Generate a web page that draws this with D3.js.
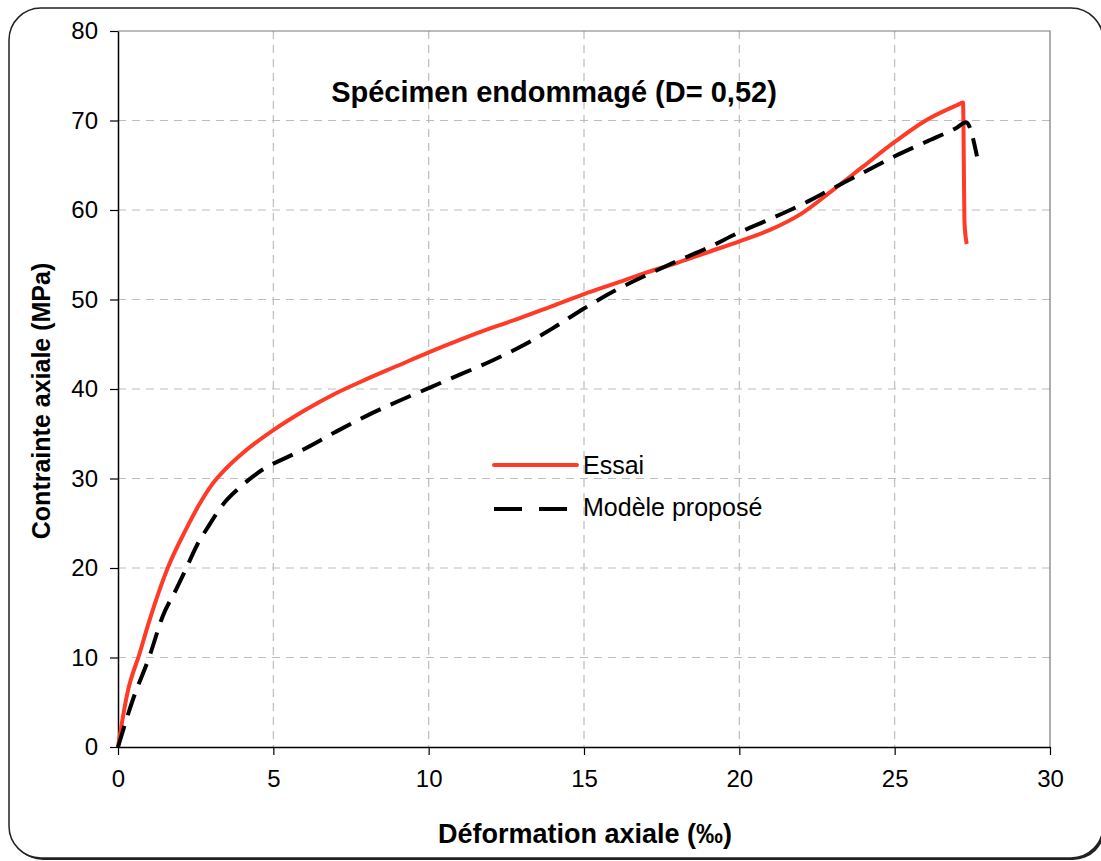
<!DOCTYPE html>
<html>
<head>
<meta charset="utf-8">
<script src="https://cdn.jsdelivr.net/npm/d3@7"></script>
<style type="text/css">
    body{ margin: 0; background: white; }
    text{ font-family: Arial, "Liberation Sans", sans-serif; }
    .grid line{ stroke: #bdbdbd; stroke-dasharray: 8,6; stroke-width: 1.2; }
</style>
</head>
<body>
<script type="text/javascript">
var width = 1101,
    height = 861;

// essai (red curve)
var essaiX = [0, 0.3, 0.7, 1.0, 1.6, 2.2, 2.6, 3.0, 3.5, 4.0, 5.0, 6.0, 7.0, 8.0, 9.0, 10.0, 11.0, 12.0, 13.0, 14.0, 15.0, 16.0, 17.0, 18.0, 19.0, 20.0, 21.0, 22.0, 23.0, 24.0, 25.0, 26.0, 27.0, 27.2, 27.25, 27.32];
var essaiY = [0, 6, 10.5, 14, 20, 24.4, 27.0, 29.2, 31.2, 32.8, 35.4, 37.6, 39.5, 41.1, 42.6, 44.1, 45.5, 46.8, 48.0, 49.3, 50.6, 51.8, 53.0, 54.1, 55.3, 56.5, 57.8, 59.6, 62.2, 64.9, 67.6, 70.0, 71.7, 72.0, 58.5, 56.2];

// modele propose (black dashed)
var modeleX = [0, 0.5, 1.0, 1.45, 1.9, 2.2, 2.55, 2.9, 3.45, 3.95, 4.75, 5.4, 6.0, 7.0, 8.0, 9.0, 10.0, 11.0, 12.0, 13.0, 14.0, 15.0, 16.0, 17.0, 18.0, 19.0, 20.0, 21.0, 22.0, 23.0, 24.0, 25.0, 26.0, 27.0, 27.3, 27.65];
var modeleY = [0, 5.5, 10, 14.7, 17.8, 20, 22.6, 24.6, 27.4, 29.1, 31.2, 32.3, 33.3, 35.2, 37.0, 38.6, 40.1, 41.6, 43.1, 44.8, 46.8, 49.0, 51.0, 52.7, 54.3, 55.8, 57.5, 59.0, 60.6, 62.4, 64.2, 66.0, 67.6, 69.2, 69.8, 66.0];

var xTicks = [0, 5, 10, 15, 20, 25, 30];
var yTicks = [0, 10, 20, 30, 40, 50, 60, 70, 80];

var pLeft = 118, pRight = 1050, pTop = 31, pBottom = 747;

var x = d3.scaleLinear().domain([0, 30]).range([pLeft, pRight]);
var y = d3.scaleLinear().domain([0, 80]).range([pBottom, pTop]);

var svg = d3.select('body')
    .append('svg')
        .attr('width', width)
        .attr('height', height);

// outer frame
svg.append('rect')
    .attr('x', 11).attr('y', 10)
    .attr('width', 1094).attr('height', 850)
    .attr('rx', 32)
    .attr('fill', '#222');
svg.append('rect')
    .attr('x', 9).attr('y', 8)
    .attr('width', 1094).attr('height', 850)
    .attr('rx', 32)
    .attr('fill', 'white')
    .attr('stroke', '#222')
    .attr('stroke-width', 1.5);

// grid
var grid = svg.append('g').attr('class', 'grid');
grid.selectAll('.h')
    .data(yTicks.slice(1, -1))
    .enter().append('line')
        .attr('x1', pLeft).attr('x2', pRight)
        .attr('y1', function(d){ return y(d); })
        .attr('y2', function(d){ return y(d); });
grid.selectAll('.v')
    .data(xTicks.slice(1, -1))
    .enter().append('line')
        .attr('y1', pTop).attr('y2', pBottom)
        .attr('x1', function(d){ return x(d); })
        .attr('x2', function(d){ return x(d); });

// plot border top/right
svg.append('path')
    .attr('d', 'M' + pLeft + ',' + pTop + 'H' + pRight + 'V' + pBottom)
    .attr('fill', 'none')
    .attr('stroke', '#7a7a7a')
    .attr('stroke-width', 1.2);

// axes
var xAxis = svg.append('g')
    .attr('transform', 'translate(0,' + pBottom + ')')
    .call(d3.axisBottom(x).tickValues(xTicks).tickSize(8).tickSizeOuter(0));
var yAxis = svg.append('g')
    .attr('transform', 'translate(' + pLeft + ',0)')
    .call(d3.axisLeft(y).tickValues(yTicks).tickSize(8).tickSizeOuter(0));

[xAxis, yAxis].forEach(function(a){
    a.select('.domain').attr('stroke', '#000').attr('stroke-width', 1.5);
    a.selectAll('.tick line').attr('stroke', '#000').attr('stroke-width', 1.2);
    a.selectAll('.tick text')
        .attr('font-family', 'Arial, "Liberation Sans", sans-serif')
        .attr('font-size', 24)
        .attr('fill', '#000');
});
xAxis.selectAll('.tick text').attr('dy', '1.2em');
yAxis.selectAll('.tick text').attr('x', -20);

// curves
var line = d3.line()
    .curve(d3.curveMonotoneX)
    .x(function(d){ return x(d[0]); })
    .y(function(d){ return y(d[1]); });

var modele = modeleX.map(function(v, i){ return [v, modeleY[i]]; });
var essai = essaiX.map(function(v, i){ return [v, essaiY[i]]; });

svg.append('path')
    .datum(essai)
    .attr('d', line)
    .attr('fill', 'none')
    .attr('stroke', '#ff3a26')
    .attr('stroke-width', 4)
    .attr('stroke-linejoin', 'round');

svg.append('path')
    .datum(modele)
    .attr('d', line)
    .attr('fill', 'none')
    .attr('stroke', '#000')
    .attr('stroke-width', 4)
    .attr('stroke-dasharray', '22,11');

// title
svg.append('text')
    .attr('x', 554).attr('y', 102)
    .attr('text-anchor', 'middle')
    .attr('font-size', 29)
    .attr('font-weight', 'bold')
    .text('Spécimen endommagé (D= 0,52)');

// axis labels
svg.append('text')
    .attr('x', 585).attr('y', 843)
    .attr('text-anchor', 'middle')
    .attr('font-size', 27)
    .attr('font-weight', 'bold')
    .text('Déformation axiale (‰)');

svg.append('text')
    .attr('transform', 'translate(50,401) rotate(-90)')
    .attr('text-anchor', 'middle')
    .attr('font-size', 25)
    .attr('font-weight', 'bold')
    .text('Contrainte axiale (MPa)');

// legend
var legend = svg.append('g');
legend.append('line')
    .attr('x1', 494).attr('x2', 577)
    .attr('y1', 465).attr('y2', 465)
    .attr('stroke', '#ff3a26').attr('stroke-width', 4)
    .attr('stroke-linecap', 'round');
legend.append('text')
    .attr('x', 583).attr('y', 474)
    .attr('font-size', 25)
    .text('Essai');
legend.append('line')
    .attr('x1', 494).attr('x2', 567)
    .attr('y1', 509).attr('y2', 509)
    .attr('stroke', '#000').attr('stroke-width', 4)
    .attr('stroke-dasharray', '28,17');
legend.append('text')
    .attr('x', 583).attr('y', 516)
    .attr('font-size', 25)
    .text('Modèle proposé');
</script>
</body>
</html>
